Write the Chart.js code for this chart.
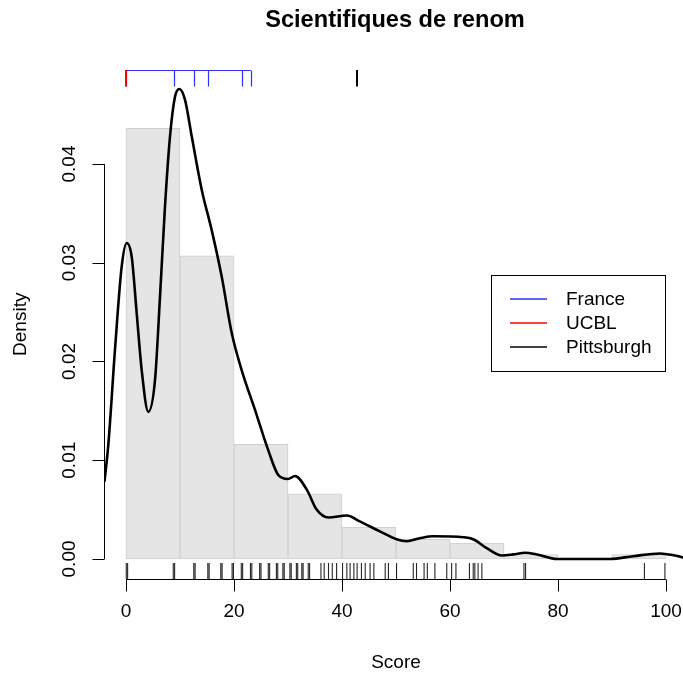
<!DOCTYPE html>
<html>
<head>
<meta charset="utf-8">
<title>Scientifiques de renom</title>
<script src="https://cdn.jsdelivr.net/npm/chart.js@4.4.0/dist/chart.umd.min.js"></script>
<style>
html, body { margin: 0; padding: 0; overflow: hidden; background: #fff; }
#wrap { width: 792px; height: 677px; }
</style>
</head>
<body>
<div id="wrap"><canvas id="myChart" width="792" height="677"></canvas></div>
<script>
//Histogram breaks and the density of each bin
var breaks = [0, 10, 20, 30, 40, 50, 60, 70, 80, 90, 100];
var histDensity = [0.0436, 0.0307, 0.0116, 0.0066, 0.0032, 0.0020, 0.0016, 0.00045, 0, 0.00045];

//Kernel density estimate of the scores
var densityX = [-4, -3.3, -2.0, -0.8, 0.13, 1.06, 1.98, 2.91, 4.13, 5.37, 6.30, 7.22, 8.15, 9.07, 9.87,
   10.93, 12.17, 14.02, 15.87, 17.72, 19.57, 21.43, 23.89, 26.35, 28.2, 30.0, 31.3, 33.5, 35.3, 37.5,
   40.9, 43.3, 47.0, 50.1, 52.0, 54.4, 56.9, 62.5, 64.3, 66.8, 69.6, 71.7, 73.9, 76.1, 79.8,
   89.6, 93.9, 98.9, 101.4, 104];
var densityY = [0.0078, 0.0114, 0.0215, 0.0296, 0.0320, 0.0306, 0.0249, 0.0191, 0.0149, 0.0181, 0.0266, 0.0357, 0.0428, 0.0468, 0.0476,
   0.0465, 0.0428, 0.0374, 0.0333, 0.0286, 0.0229, 0.0191, 0.0151, 0.0110, 0.0085, 0.0081, 0.0084, 0.0070, 0.0050, 0.0042,
   0.0044, 0.0038, 0.0028, 0.0020, 0.0018, 0.0021, 0.0023, 0.0022, 0.0020, 0.0011, 0.00035, 0.00046, 0.00063, 0.00046, 0.0,
   0.0, 0.00028, 0.00056, 0.00038, 0.00003];

//All scores (rug under the x axis)
var allScores = [0.05, 0.3, 8.75, 9.0, 12.55, 12.8, 15.15, 15.4, 17.55, 17.8, 19.65, 19.9, 21.35, 21.6, 23.05, 23.3,
   24.75, 25.0, 26.35, 26.6, 27.85, 28.1, 29.05, 29.3, 30.35, 30.6, 31.55, 31.8, 32.55, 32.8, 33.75, 34.0,
   36.1, 36.7, 37.5, 38.2, 39.0, 40.1, 40.9, 41.5, 42.2, 42.8, 43.6, 44.3, 45.2, 45.9, 48.0, 48.6, 50.1,
   53.2, 53.8, 55.2, 55.8, 57.2, 59.4, 60.3, 61.1, 63.6, 64.3, 64.6, 65.2, 65.9, 73.7, 74.0, 96.0, 99.8];

//Highlighted groups (marks along the top)
var franceScores = [0, 8.8, 12.5, 15.1, 21.5, 23.1];
var ucblScores = [0];
var pittsburghScores = [42.8];

//Tick labels
var xTicks = [0, 20, 40, 60, 80, 100];
var yTicks = [0, 0.01, 0.02, 0.03, 0.04];
var yTickLabels = ["0.00", "0.01", "0.02", "0.03", "0.04"];

var legendNames = ["France", "UCBL", "Pittsburgh"];
var legendColors = ["#2f2fff", "#ff0000", "#000000"];

var FONT = '19px "Liberation Sans", Arial, Helvetica, sans-serif';

//Bars sit at the middle of each bin
var histPoints = [];
for (var i = 0; i < histDensity.length; i++) {
   histPoints.push({x: (breaks[i] + breaks[i + 1]) / 2, y: histDensity[i]});
}
var densityPoints = [];
for (var j = 0; j < densityX.length; j++) {
   densityPoints.push({x: densityX[j], y: densityY[j]});
}

//Draws the base-graphics style axes, rugs, labels and legend on top of the chart
var baseAxes = {
   id: 'baseAxes',
   afterDraw: function(chart) {
      var ctx = chart.ctx;
      var xs = chart.scales.x;
      var ys = chart.scales.y;
      var area = chart.chartArea;
      ctx.save();
      ctx.lineWidth = 1;
      ctx.strokeStyle = '#000';
      ctx.fillStyle = '#000';

      //x axis, line only between first and last tick
      var yb = Math.round(area.bottom) + 0.5;
      ctx.beginPath();
      ctx.moveTo(xs.getPixelForValue(xTicks[0]), yb);
      ctx.lineTo(xs.getPixelForValue(xTicks[xTicks.length - 1]), yb);
      xTicks.forEach(function(t) {
         var px = Math.round(xs.getPixelForValue(t)) + 0.5;
         ctx.moveTo(px, yb);
         ctx.lineTo(px, yb + 12);
      });
      ctx.stroke();
      ctx.font = FONT;
      ctx.textAlign = 'center';
      ctx.textBaseline = 'middle';
      xTicks.forEach(function(t) {
         ctx.fillText(String(t), xs.getPixelForValue(t), 612);
      });

      //y axis
      var xl = Math.round(area.left) + 0.5;
      ctx.beginPath();
      ctx.moveTo(xl, ys.getPixelForValue(yTicks[0]));
      ctx.lineTo(xl, ys.getPixelForValue(yTicks[yTicks.length - 1]));
      yTicks.forEach(function(t) {
         var py = Math.round(ys.getPixelForValue(t)) + 0.5;
         ctx.moveTo(xl, py);
         ctx.lineTo(xl - 12, py);
      });
      ctx.stroke();
      yTicks.forEach(function(t, k) {
         ctx.save();
         ctx.translate(70, ys.getPixelForValue(t));
         ctx.rotate(-Math.PI / 2);
         ctx.fillText(yTickLabels[k], 0, 0);
         ctx.restore();
      });

      //axis titles and main title
      var cx = (area.left + area.right) / 2;
      ctx.fillText("Score", cx, 663);
      ctx.save();
      ctx.translate(21, (area.top + area.bottom) / 2);
      ctx.rotate(-Math.PI / 2);
      ctx.fillText("Density", 0, 0);
      ctx.restore();
      ctx.font = 'bold 23.6px "Liberation Sans", Arial, Helvetica, sans-serif';
      ctx.fillText("Scientifiques de renom", cx - 1, 20);

      //rug of all scores under the curve
      ctx.strokeStyle = 'rgba(0,0,0,0.85)';
      ctx.lineWidth = 1.1;
      ctx.beginPath();
      allScores.forEach(function(s) {
         var px = xs.getPixelForValue(s);
         ctx.moveTo(px, area.bottom);
         ctx.lineTo(px, area.bottom - 16);
      });
      ctx.stroke();

      //France marks: an axis line joining its ticks along the top
      var yt = Math.round(area.top) + 0.5;
      ctx.lineWidth = 1.2;
      ctx.strokeStyle = legendColors[0];
      ctx.beginPath();
      ctx.moveTo(xs.getPixelForValue(Math.min.apply(null, franceScores)), yt);
      ctx.lineTo(xs.getPixelForValue(Math.max.apply(null, franceScores)), yt);
      franceScores.forEach(function(s) {
         var px = Math.round(xs.getPixelForValue(s)) + 0.5;
         ctx.moveTo(px, yt);
         ctx.lineTo(px, yt + 16);
      });
      ctx.stroke();

      //UCBL and Pittsburgh marks
      ctx.lineWidth = 2;
      [[ucblScores, legendColors[1]], [pittsburghScores, legendColors[2]]].forEach(function(g) {
         ctx.strokeStyle = g[1];
         ctx.beginPath();
         g[0].forEach(function(s) {
            var px = Math.round(xs.getPixelForValue(s));
            ctx.moveTo(px, yt - 0.5);
            ctx.lineTo(px, yt + 16);
         });
         ctx.stroke();
      });

      //legend box
      ctx.lineWidth = 1;
      ctx.strokeStyle = '#000';
      ctx.strokeRect(491.5, 275.5, 174, 96);
      ctx.font = FONT;
      ctx.textAlign = 'left';
      legendNames.forEach(function(name, k) {
         var ly = 299 + k * 24;
         ctx.strokeStyle = legendColors[k];
         ctx.lineWidth = 1.3;
         ctx.beginPath();
         ctx.moveTo(510, ly);
         ctx.lineTo(547, ly);
         ctx.stroke();
         ctx.fillStyle = '#000';
         ctx.fillText(name, 566, ly + 0.5);
      });
      ctx.restore();
   }
};

var ctx = document.getElementById("myChart").getContext('2d');
var chart = new Chart(ctx, {
   type: 'bar',
   data: {
      datasets: [{
         type: 'line',
         label: 'density',
         data: densityPoints,
         borderColor: '#000',
         borderWidth: 2.6,
         pointRadius: 0,
         fill: false,
         cubicInterpolationMode: 'monotone',
         order: 0
      }, {
         type: 'bar',
         label: 'histogram',
         data: histPoints,
         backgroundColor: '#e5e5e5',
         borderColor: '#cfcfcf',
         borderWidth: 1,
         borderSkipped: false,
         barPercentage: 1,
         categoryPercentage: 1,
         order: 1
      }]
   },
   options: {
      responsive: false,
      devicePixelRatio: 1,
      animation: false,
      layout: {padding: {left: 104.4, right: 104.4, top: 69.5, bottom: 98}},
      scales: {
         //ticks every bin width so the bars fill each bin
         x: {type: 'linear', min: -4, max: 104, offset: false, display: false,
             ticks: {stepSize: 10, includeBounds: false}},
         y: {type: 'linear', min: -0.00203, max: 0.04957, display: false}
      },
      plugins: {
         legend: {display: false},
         title: {display: false},
         tooltip: {enabled: false}
      }
   },
   plugins: [baseAxes]
});
</script>
</body>
</html>
